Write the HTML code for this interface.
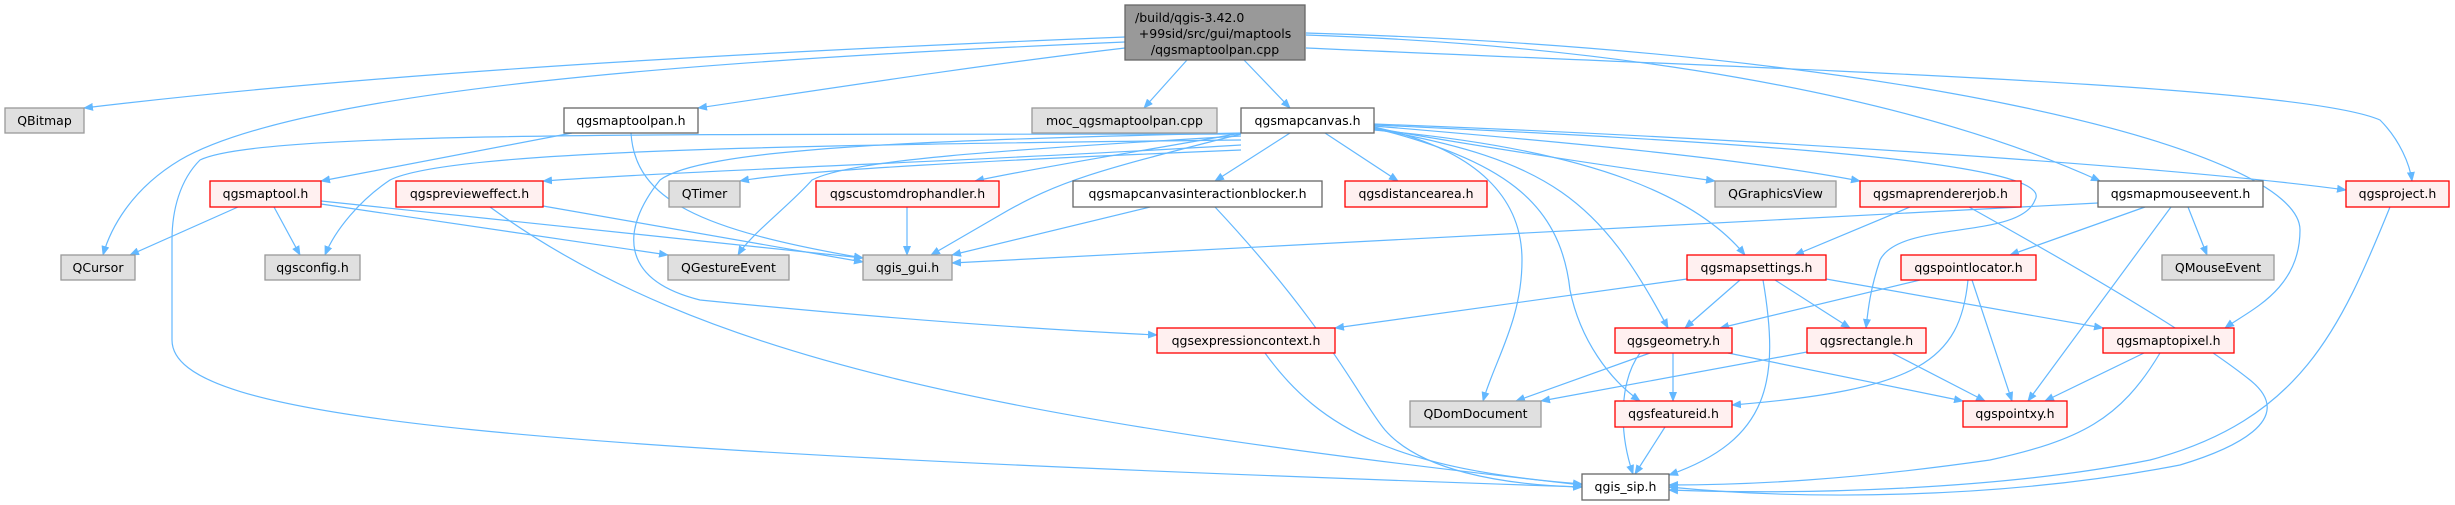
<!DOCTYPE html>
<html><head><meta charset="utf-8"><style>
html,body{margin:0;padding:0;background:#fff;}
svg{display:block;}
text{font-family:"DejaVu Sans","Liberation Sans",sans-serif;font-size:12.5px;fill:#000;}
.e{fill:none;stroke:#63b8ff;stroke-width:1.2;}
.w{fill:#fff;stroke:#666;stroke-width:1.3;}
.g{fill:#e0e0e0;stroke:#999;stroke-width:1.3;}
.r{fill:#fff0f0;stroke:#f00;stroke-width:1.3;}
</style></head><body>
<svg width="2455" height="505" viewBox="0 0 2455 505" xmlns="http://www.w3.org/2000/svg">
<defs><marker id="a" markerWidth="10" markerHeight="8" refX="9" refY="4" orient="auto" markerUnits="userSpaceOnUse"><path d="M0,0 L10,4 L0,8 Z" fill="#63b8ff"/></marker></defs>
<g class="e" marker-end="url(#a)">
<!-- main -->
<path d="M1125,37 C800,50 400,70 84,108"/>
<path d="M1125,42 C700,60 300,90 180,160 C130,190 110,230 103,255"/>
<path d="M1125,48 C980,65 820,90 698,108"/>
<path d="M1187,60 L1144,108"/>
<path d="M1244,60 L1290,108"/>
<path d="M1306,35 C1600,45 1900,90 2100,181"/>
<path d="M1306,33 C1900,50 2300,150 2300,230 C2300,290 2250,310 2225,328"/>
<path d="M1306,48 C1800,70 2300,85 2380,120 C2400,140 2410,165 2412,181"/>
<!-- maptoolpan -->
<path d="M572,133 L321,181"/>
<path d="M631,133 C635,200 700,230 863,258"/>
<!-- mapcanvas -->
<path d="M1241,134 C700,135 260,130 200,160 C180,180 172,210 172,240 L172,340 C172,420 500,450 1582,487"/>
<path d="M1241,140 C800,145 450,150 390,180 C360,200 335,230 325,255"/>
<path d="M1241,145 C1000,160 700,170 543,181"/>
<path d="M1241,150 C1000,160 800,170 740,181"/>
<path d="M1241,136 C1000,150 850,160 812,180 C790,205 750,235 738,255"/>
<path d="M1241,134 C1100,170 1060,180 1000,215 L931,255"/>
<path d="M1241,133 C1150,150 1050,165 975,181"/>
<path d="M1290,133 L1215,181"/>
<path d="M1325,133 L1398,181"/>
<path d="M1374,127 C1480,150 1522,200 1522,260 C1522,320 1495,360 1483,401"/>
<path d="M1374,128 C1500,160 1560,200 1570,290 C1580,340 1610,380 1640,401"/>
<path d="M1374,129 C1550,160 1600,200 1668,328"/>
<path d="M1374,130 C1600,150 1700,200 1745,255"/>
<path d="M1374,128 C1500,150 1600,165 1715,181"/>
<path d="M1374,126 C1600,145 1750,160 1860,181"/>
<path d="M1374,125 C1700,140 2060,160 2035,200 C2020,240 1900,220 1880,260 C1870,290 1868,310 1866,328"/>
<path d="M1374,124 C1800,140 2200,170 2346,190"/>
<path d="M1241,133 C900,140 700,150 660,180 C620,230 620,280 700,300 C900,320 1050,330 1157,335"/>
<!-- maptool -->
<path d="M238,207 L130,255"/>
<path d="M274,207 L300,255"/>
<path d="M321,204 L668,255"/>
<path d="M321,201 L863,258"/>
<!-- preview -->
<path d="M543,206 L863,262"/>
<path d="M490,207 C700,360 1000,420 1582,485"/>
<!-- drop handler -->
<path d="M907,207 L907,255"/>
<!-- blocker -->
<path d="M1150,207 L952,255"/>
<path d="M1215,207 C1330,330 1360,400 1385,430 C1420,470 1500,485 1582,487"/>
<!-- mouseevent -->
<path d="M2098,203 L952,263"/>
<path d="M2145,207 L2010,255"/>
<path d="M2188,207 L2207,255"/>
<path d="M2171,207 L2028,401"/>
<!-- rendererjob -->
<path d="M1969,207 C2100,280 2200,340 2250,380 C2300,420 2230,450 2180,465 C2000,500 1800,500 1669,487"/>
<path d="M1910,207 L1795,255"/>
<!-- project -->
<path d="M2390,207 C2340,330 2300,420 2150,460 C2000,490 1800,495 1669,490"/>
<!-- mapsettings -->
<path d="M1687,279 L1335,328"/>
<path d="M1740,280 L1685,328"/>
<path d="M1763,280 C1780,380 1770,440 1669,475"/>
<path d="M1775,280 L1850,328"/>
<path d="M1826,279 L2103,328"/>
<!-- pointlocator -->
<path d="M1920,280 L1720,328"/>
<path d="M1968,280 C1960,360 1920,390 1732,405"/>
<path d="M1972,280 L2012,401"/>
<!-- geometry -->
<path d="M1650,353 L1516,401"/>
<path d="M1673,353 L1673,401"/>
<path d="M1728,353 L1963,401"/>
<path d="M1640,353 C1620,380 1618,430 1633,474"/>
<!-- rectangle -->
<path d="M1807,352 L1541,401"/>
<path d="M1892,353 L1985,401"/>
<!-- maptopixel -->
<path d="M2144,353 L2045,401"/>
<path d="M2160,353 C2120,420 2080,440 1990,460 C1850,480 1750,485 1669,485"/>
<!-- expressioncontext -->
<path d="M1265,353 C1320,430 1400,470 1582,484"/>
<!-- featureid -->
<path d="M1665,427 L1635,474"/>
</g>
<!-- nodes -->
<rect x="1125" y="5" width="180" height="55" style="fill:#999;stroke:#666;stroke-width:1.3"/>
<text x="1135" y="22">/build/qgis-3.42.0</text>
<text x="1215" y="38" text-anchor="middle">+99sid/src/gui/maptools</text>
<text x="1215" y="54" text-anchor="middle">/qgsmaptoolpan.cpp</text>

<rect class="g" x="5" y="108" width="79" height="25"/><text x="44.5" y="125" text-anchor="middle">QBitmap</text>
<rect class="w" x="564" y="108" width="134" height="25"/><text x="631" y="125" text-anchor="middle">qgsmaptoolpan.h</text>
<rect class="g" x="1032" y="108" width="185" height="25"/><text x="1124.5" y="125" text-anchor="middle">moc_qgsmaptoolpan.cpp</text>
<rect class="w" x="1241" y="108" width="133" height="25"/><text x="1307.5" y="125" text-anchor="middle">qgsmapcanvas.h</text>

<rect class="r" x="210" y="181" width="111" height="26"/><text x="265.5" y="198" text-anchor="middle">qgsmaptool.h</text>
<rect class="r" x="396" y="181" width="147" height="26"/><text x="469.5" y="198" text-anchor="middle">qgspreviewеffect.h</text>
<rect class="g" x="669" y="181" width="71" height="26"/><text x="704.5" y="198" text-anchor="middle">QTimer</text>
<rect class="r" x="816" y="181" width="183" height="26"/><text x="907.5" y="198" text-anchor="middle">qgscustomdrophandler.h</text>
<rect class="w" x="1073" y="181" width="249" height="26"/><text x="1197.5" y="198" text-anchor="middle">qgsmapcanvasinteractionblocker.h</text>
<rect class="r" x="1345" y="181" width="142" height="26"/><text x="1416" y="198" text-anchor="middle">qgsdistancearea.h</text>
<rect class="g" x="1715" y="181" width="121" height="26"/><text x="1775.5" y="198" text-anchor="middle">QGraphicsView</text>
<rect class="r" x="1860" y="181" width="161" height="26"/><text x="1940.5" y="198" text-anchor="middle">qgsmaprendererjob.h</text>
<rect class="w" x="2098" y="181" width="165" height="26"/><text x="2180.5" y="198" text-anchor="middle">qgsmapmouseevent.h</text>
<rect class="r" x="2346" y="181" width="103" height="26"/><text x="2397.5" y="198" text-anchor="middle">qgsproject.h</text>

<rect class="g" x="61" y="255" width="74" height="25"/><text x="98" y="272" text-anchor="middle">QCursor</text>
<rect class="g" x="265" y="255" width="95" height="25"/><text x="312.5" y="272" text-anchor="middle">qgsconfig.h</text>
<rect class="g" x="668" y="255" width="121" height="25"/><text x="728.5" y="272" text-anchor="middle">QGestureEvent</text>
<rect class="g" x="863" y="255" width="89" height="25"/><text x="907.5" y="272" text-anchor="middle">qgis_gui.h</text>
<rect class="r" x="1687" y="255" width="139" height="25"/><text x="1756.5" y="272" text-anchor="middle">qgsmapsettings.h</text>
<rect class="r" x="1901" y="255" width="135" height="25"/><text x="1968.5" y="272" text-anchor="middle">qgspointlocator.h</text>
<rect class="g" x="2162" y="255" width="112" height="25"/><text x="2218" y="272" text-anchor="middle">QMouseEvent</text>

<rect class="r" x="1157" y="328" width="178" height="25"/><text x="1246" y="345" text-anchor="middle">qgsexpressioncontext.h</text>
<rect class="r" x="1615" y="328" width="117" height="25"/><text x="1673.5" y="345" text-anchor="middle">qgsgeometry.h</text>
<rect class="r" x="1807" y="328" width="119" height="25"/><text x="1866.5" y="345" text-anchor="middle">qgsrectangle.h</text>
<rect class="r" x="2103" y="328" width="131" height="25"/><text x="2168.5" y="345" text-anchor="middle">qgsmaptopixel.h</text>

<rect class="g" x="1410" y="401" width="131" height="26"/><text x="1475.5" y="418" text-anchor="middle">QDomDocument</text>
<rect class="r" x="1615" y="401" width="117" height="26"/><text x="1673.5" y="418" text-anchor="middle">qgsfeatureid.h</text>
<rect class="r" x="1963" y="401" width="104" height="26"/><text x="2015" y="418" text-anchor="middle">qgspointxy.h</text>

<rect class="w" x="1582" y="474" width="87" height="26"/><text x="1625.5" y="491" text-anchor="middle">qgis_sip.h</text>
</svg>
</body></html>
